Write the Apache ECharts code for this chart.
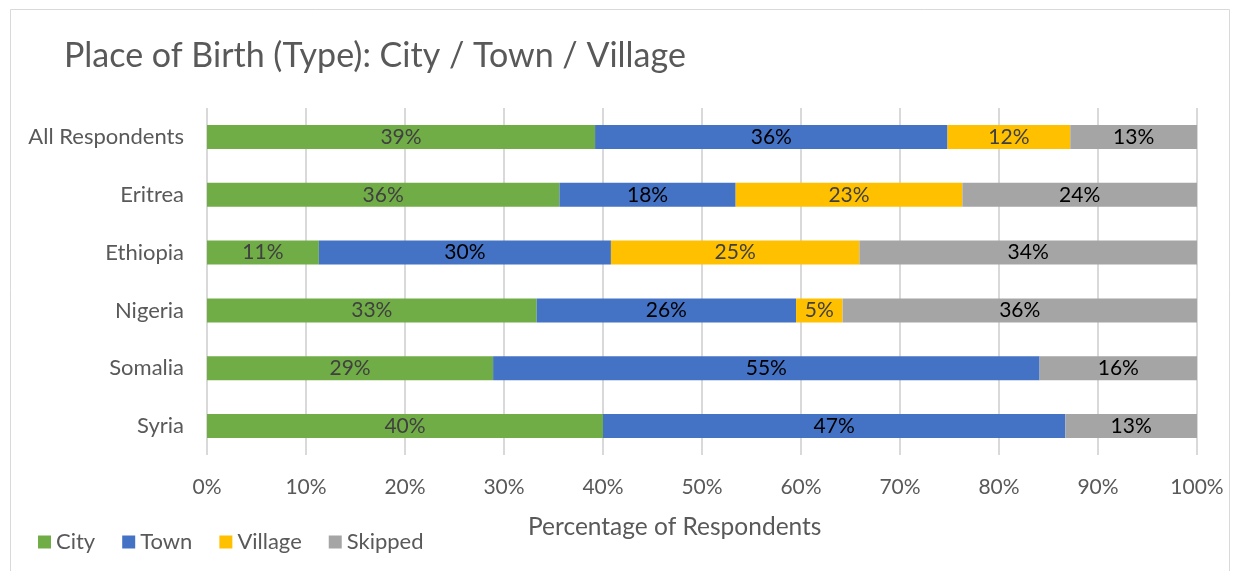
<!DOCTYPE html>
<html>
<head>
<meta charset="utf-8">
<script src="https://cdn.jsdelivr.net/npm/echarts@6/dist/echarts.min.js"></script>
<style>html,body{margin:0;padding:0;background:#fff;}#c{width:1239px;height:571px;}</style>
</head>
<body>
<div id="c"></div>
<script>
const categories = ['All Respondents', 'Eritrea', 'Ethiopia', 'Nigeria', 'Somalia', 'Syria'];
const city    = [39.2, 35.6, 11.3, 33.3, 28.9, 40.0];
const town    = [35.6, 17.8, 29.5, 26.2, 55.2, 46.7];
const village = [12.4, 22.9, 25.1, 4.7, 0, 0];
const skipped = [12.8, 23.7, 34.1, 35.8, 15.9, 13.3];
const xTicks = [0, 10, 20, 30, 40, 50, 60, 70, 80, 90, 100];

const FONT = 'Lato, "Open Sans", sans-serif';
const chart = echarts.init(document.getElementById('c'), null, {renderer: 'canvas'});

function mk(name, data, color, labelColor) {
  return {
    name: name, type: 'bar', stack: 'total', data: data, barWidth: 24,
    itemStyle: {color: color},
    label: {
      show: true, position: 'inside', color: labelColor, fontFamily: FONT, fontSize: 21,
      formatter: p => p.value > 0 ? Math.round(p.value) + '%' : ''
    },
    emphasis: {disabled: true}
  };
}

chart.setOption({
  animation: false,
  title: {
    text: 'Place of Birth (Type): City / Town / Village',
    left: 59, top: 34,
    textStyle: {color: '#595959', fontFamily: FONT, fontSize: 34, fontWeight: 'normal'}
  },
  legend: {
    left: 33, top: 526, itemWidth: 13, itemHeight: 13, itemGap: 27,
    icon: 'rect',
    textStyle: {color: '#595959', fontFamily: FONT, fontSize: 22, padding: [0, 0, 0, 0]},
    data: ['City', 'Town', 'Village', 'Skipped']
  },
  grid: {left: 207, right: 42, top: 108, bottom: 116},
  xAxis: {
    type: 'value', min: 0, max: 100, interval: 10,
    axisLine: {show: false}, axisTick: {show: false},
    splitLine: {show: true, lineStyle: {color: '#D9D9D9', width: 2}},
    axisLabel: {color: '#595959', fontFamily: FONT, fontSize: 21, margin: 22,
      formatter: v => xTicks.includes(v) ? v + '%' : ''}
  },
  yAxis: {
    type: 'category', data: categories, inverse: true,
    axisLine: {show: false}, axisTick: {show: false},
    axisLabel: {color: '#595959', fontFamily: FONT, fontSize: 22, margin: 23}
  },
  graphic: [
    {type: 'rect', shape: {x: 10.5, y: 9.5, width: 1219, height: 600},
     style: {fill: 'none', stroke: '#D9D9D9', lineWidth: 1}, silent: true},
    {type: 'text', left: 528, top: 515,
     style: {text: 'Percentage of Respondents', fill: '#595959', font: '24.5px ' + FONT}}
  ],
  series: [
    mk('City', city, '#70AD47', '#404040'),
    mk('Town', town, '#4472C4', '#000000'),
    mk('Village', village, '#FFC000', '#404040'),
    mk('Skipped', skipped, '#A5A5A5', '#000000')
  ]
});
</script>
</body>
</html>
